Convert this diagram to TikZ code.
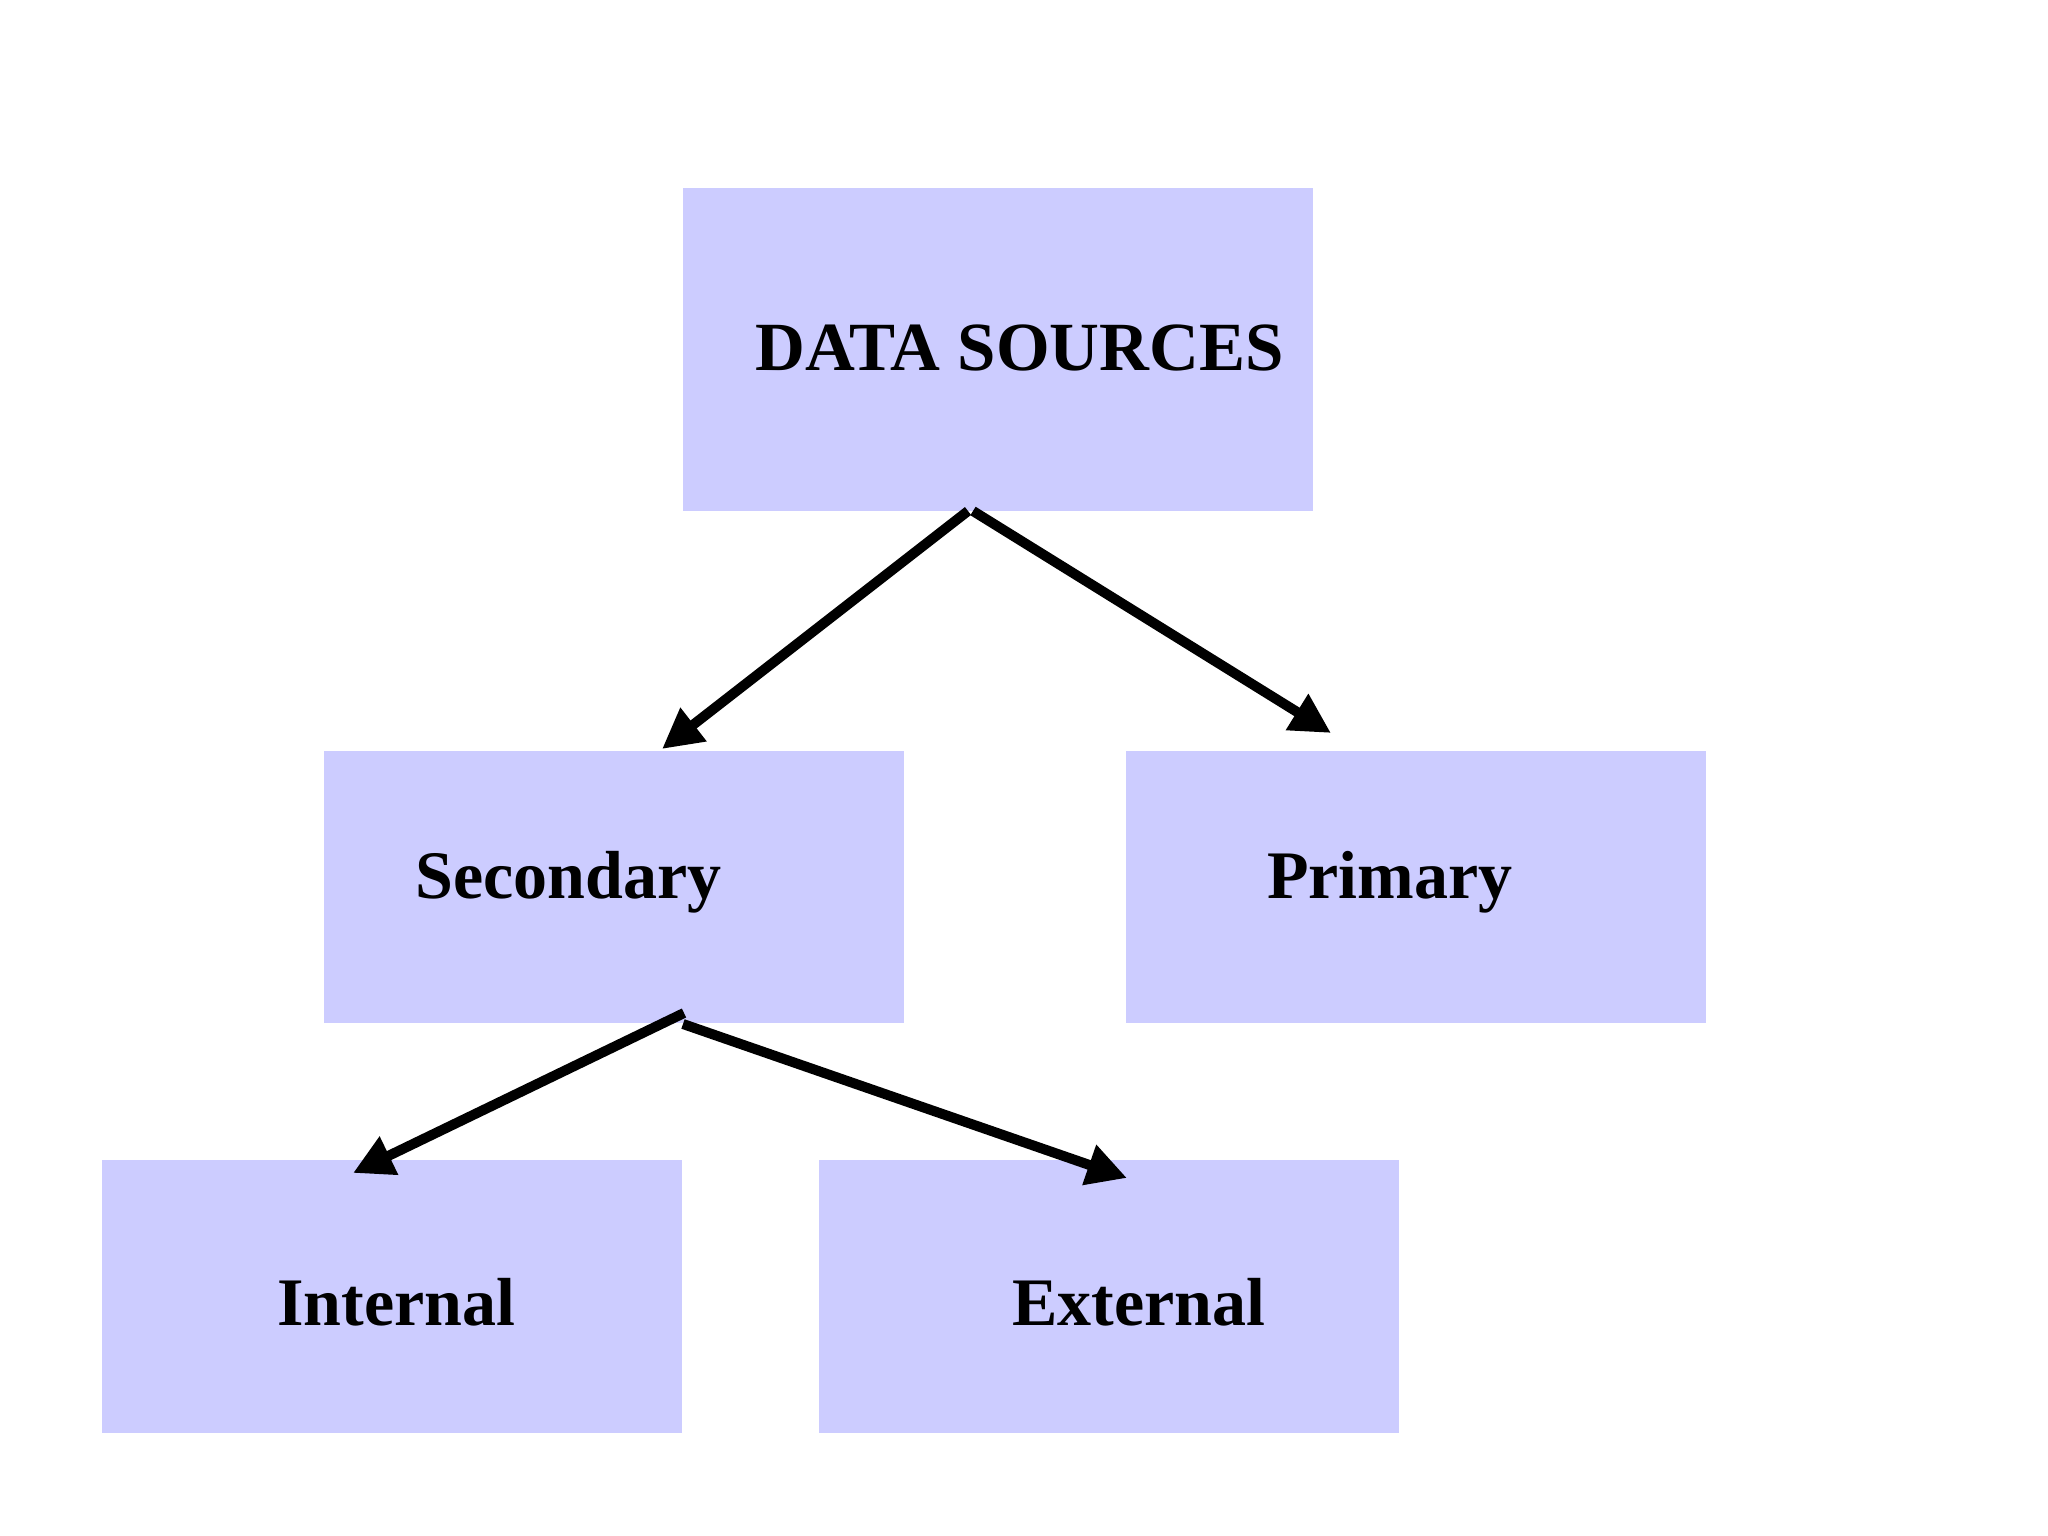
\documentclass[tikz,border=0pt]{standalone}
\usepackage{fontspec}
\setmainfont{Liberation Serif}
\usetikzlibrary{arrows.meta}
\definecolor{boxfill}{RGB}{204,204,255}
\begin{document}
\begin{tikzpicture}[x=1pt,y=-1pt,
  box/.style={fill=boxfill, draw=none, inner sep=0pt, outer sep=0pt, anchor=north west},
  lbl/.style={anchor=base west, inner sep=0pt, font=\bfseries\fontsize{68}{80}\selectfont},
  conn/.style={line width=10pt, -{Triangle[length=40pt,width=40pt]}}]
\useasboundingbox (0,0) rectangle (2048,1536);
\fill[white] (0,0) rectangle (2048,1536);
% boxes
\node[box, minimum width=630pt, minimum height=323pt] (ds) at (683,188) {};
\node[box, minimum width=580pt, minimum height=272pt] (sec) at (324,751) {};
\node[box, minimum width=580pt, minimum height=272pt] (pri) at (1126,751) {};
\node[box, minimum width=580pt, minimum height=273pt] (int) at (102,1160) {};
\node[box, minimum width=580pt, minimum height=273pt] (ext) at (819,1160) {};
% labels
\node[lbl, font=\bfseries\fontsize{69}{80}\selectfont] (dsl) at (755,370) {DATA SOURCES};
\node[lbl] (secl) at (415,898) {Secondary};
\node[lbl] (pril) at (1267,898) {Primary};
\node[lbl] (intl) at (277,1325) {Internal};
\node[lbl] (extl) at (1012,1325) {External};
% connector end points
\coordinate (dsA) at (968,511);
\coordinate (dsB) at (973,511);
\coordinate (secT) at (662,749);
\coordinate (priT) at (1331,733);
\coordinate (secA) at (684,1013);
\coordinate (secB) at (683,1024);
\coordinate (intT) at (353,1173);
\coordinate (extT) at (1127,1178);
% connectors
\draw[conn] (dsA) -- (secT);
\draw[conn] (dsB) -- (priT);
\draw[conn] (secA) -- (intT);
\draw[conn] (secB) -- (extT);
\end{tikzpicture}
\end{document}
